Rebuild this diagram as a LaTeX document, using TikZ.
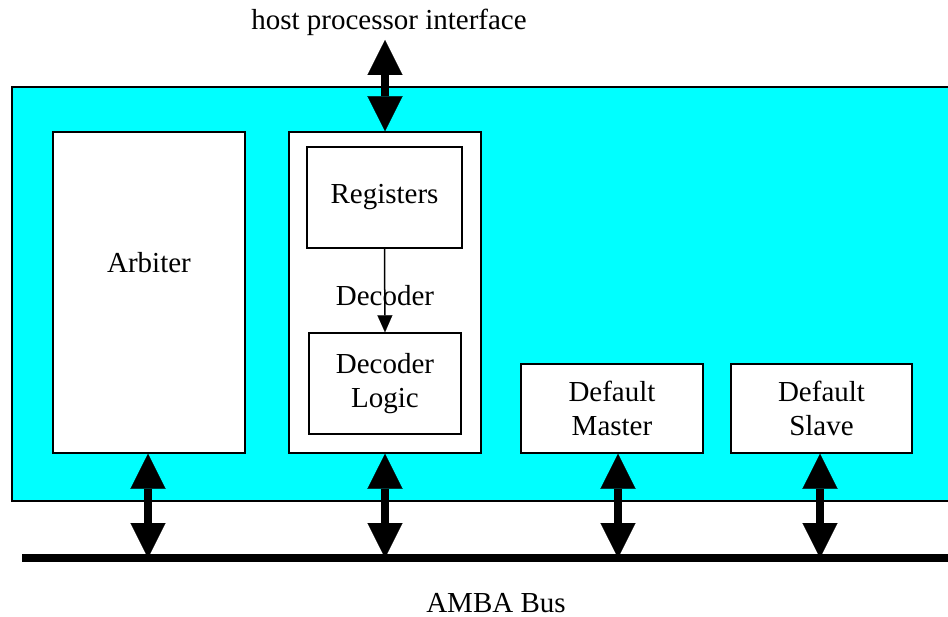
\documentclass[tikz,border=0pt]{standalone}
\usepackage{fontspec}
\setmainfont{Liberation Serif}
\usetikzlibrary{arrows.meta}
\definecolor{aqua}{RGB}{0,255,255}
\tikzset{
  box/.style={draw, line width=1.5pt, fill=white, inner sep=0pt, align=center},
  txt/.style={inner sep=0pt, align=center, font=\fontsize{29}{34}\selectfont},
  bigtip/.tip={Triangle[length=35pt 0 0, width=35pt 0 0, line width=0.1pt 0]},
  dbl/.style={line width=8pt, {bigtip}-{bigtip}},
  thinarrow/.style={line width=1.5pt, -{Triangle[length=17pt 0 0, width=15pt 0 0, line width=0.1pt 0]}}
}
\begin{document}
\begin{tikzpicture}[x=1pt,y=-1pt]
\useasboundingbox (0,0) rectangle (948,617);
% cyan block (runs off the right edge)
\fill[aqua] (12,87) rectangle (948,501);
\draw[line width=1.5pt] (948,87) -| (12,501) -- (948,501);

% boxes
\node[box, minimum width=192pt, minimum height=321pt] (arbiter) at (149,292.5) {};
\node[txt] (arbtxt) at (149,263) {Arbiter};
\node[box, minimum width=192pt, minimum height=321pt] (decoder) at (385,292.5) {};
\node[box, txt, minimum width=155pt, minimum height=101pt] (regs) at (384.5,197.5) {Registers};
\node[box, txt, minimum width=152pt, minimum height=101pt] (declogic) at (385,383.5) {Decoder\\Logic};
\node[box, txt, minimum width=182pt, minimum height=89pt] (master) at (612,408.5) {Default\\Master};
\node[box, txt, minimum width=181pt, minimum height=89pt] (slave) at (821.5,408.5) {Default\\Slave};

% inner decoder connection
\node[txt] (declabel) at (385,296) {Decoder};
\draw[thinarrow] (regs.south) -- (declogic.north);

% texts
\node[txt] (host) at (389,22) {host processor interface};
\node[txt] (amba) at (496,603) {AMBA Bus};

% bus
\coordinate (busL) at (22,558);
\coordinate (busR) at (948,558);
\draw[line width=8pt] (busL) -- (busR);

% host arrow
\coordinate (hostTop) at (385,40);
\draw[dbl] (hostTop) -- (decoder.north);

% bus arrows
\draw[dbl] ([xshift=-1pt]arbiter.south) coordinate (a1) -- (a1 |- busL);
\draw[dbl] (decoder.south) coordinate (a2) -- (a2 |- busL);
\draw[dbl] ([xshift=6pt]master.south) coordinate (a3) -- (a3 |- busL);
\draw[dbl] ([xshift=-1.5pt]slave.south) coordinate (a4) -- (a4 |- busL);
\end{tikzpicture}
\end{document}
